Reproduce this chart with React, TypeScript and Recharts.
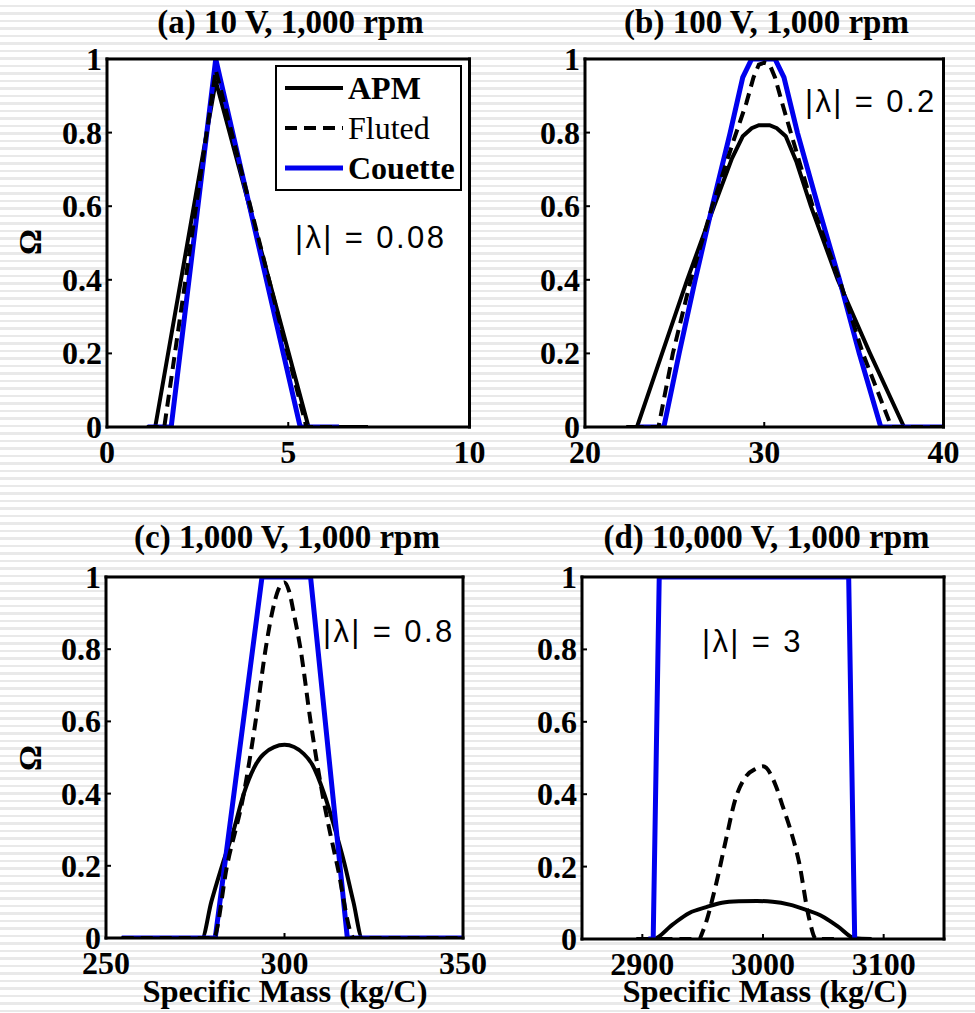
import React from "react"
import { CartesianGrid, Legend, Line, LineChart, XAxis, YAxis } from "recharts"

// ---- data ----
const yTicks = [0, 0.2, 0.4, 0.6, 0.8, 1]

// (a) 10 V
const aTicks = [0, 5, 10]
const apmAX = [1.1, 1.33, 3.0, 5.56, 7.2]
const apmAY = [0, 0, 0.94, 0, 0]
const flutedAX = [1.1, 1.58, 3.0, 5.5, 7.2]
const flutedAY = [0, 0, 0.97, 0, 0]
const couetteAX = [1.12, 1.77, 3.0, 5.33, 6.4]
const couetteAY = [0, 0, 1, 0, 0]

// (b) 100 V
const bTicks = [20, 30, 40]
const apmBX = [22.3, 22.9, 25.7, 27.2, 28.2, 28.8, 29.3, 29.7, 30.3, 30.7, 31.2, 31.8, 32.6, 34.1, 35.9, 37.8, 40]
const apmBY = [0, 0, 0.4, 0.6, 0.73, 0.79, 0.812, 0.82, 0.82, 0.812, 0.79, 0.72, 0.6, 0.4, 0.2, 0, 0]
const flutedBX = [22.6, 24.1, 24.9, 25.9, 27.1, 28.3, 29.0, 29.4, 29.7, 30, 30.3, 30.6, 31.0, 31.6, 32.7, 34.2, 35.5, 37.1, 40]
const flutedBY = [0, 0, 0.2, 0.4, 0.6, 0.78, 0.88, 0.95, 0.985, 0.99, 0.985, 0.95, 0.88, 0.78, 0.6, 0.4, 0.2, 0, 0]
const couetteBX = [23.0, 24.4, 25.25, 26.15, 27.1, 28.1, 28.8, 29.3, 30.6, 31.1, 31.85, 33.0, 34.2, 35.3, 36.5, 40]
const couetteBY = [0, 0, 0.2, 0.4, 0.6, 0.8, 0.95, 1, 1, 0.95, 0.8, 0.6, 0.4, 0.2, 0, 0]

// (c) 1,000 V
const cTicks = [250, 300, 350]
const apmCX = [254.4, 276.9, 279.5, 282.5, 285.8, 288.6, 291.4, 294.2, 300, 305.4, 307.8, 311.1, 313.9, 316.7, 319.3, 321.8, 350]
const apmCY = [0, 0, 0.1, 0.2, 0.3, 0.4, 0.47, 0.51, 0.535, 0.51, 0.48, 0.4, 0.31, 0.21, 0.1, 0, 0]
const flutedCX = [254.4, 280.1, 283.9, 288.6, 291.9, 294.7, 296.5, 298.5, 300, 301.3, 302.6, 304.5, 307.3, 310.6, 314.8, 319.5, 350]
const flutedCY = [0, 0, 0.2, 0.4, 0.6, 0.8, 0.9, 0.97, 0.985, 0.96, 0.9, 0.8, 0.6, 0.4, 0.2, 0, 0]
const couetteCX = [254.4, 280.6, 293.7, 307.3, 317.6, 350]
const couetteCY = [0, 0, 1, 1, 0, 0]

// (d) 10,000 V
const dTicks = [2900, 3000, 3100]
const apmDX = [2895, 2909, 2925, 2939, 2953, 2966, 2980, 2995, 3008, 3022, 3036, 3049, 3062, 3076, 3090]
const apmDY = [0, 0, 0.04, 0.072, 0.088, 0.1, 0.104, 0.105, 0.103, 0.095, 0.08, 0.063, 0.035, 0.002, 0]
const flutedDX = [2915, 2947, 2950, 2961, 2969, 2977, 2986, 2994, 3000, 3011, 3016, 3022, 3030, 3038, 3044, 3060]
const flutedDY = [0, 0, 0.02, 0.15, 0.27, 0.385, 0.45, 0.47, 0.477, 0.42, 0.37, 0.31, 0.21, 0.06, 0, 0]
const couetteDX = [2905, 2909, 2914, 3071, 3076]
const couetteDY = [0, 0, 1, 1, 0]

const legendOrder = ["APM", "Fluted", "Couette"]

type Pt = { x: number; y: number }
const pts = (xs: number[], ys: number[]): Pt[] => xs.map((x, i) => ({ x, y: ys[i] }))

const serif = "Liberation Serif"
const sans = "Liberation Sans"
const blue = "#0000ee"

// padding around the plot box inside each chart
const PAD = { l: 70, t: 30, r: 30, b: 50 }

const boxLine = { stroke: "#000", strokeWidth: 3, strokeLinecap: "square" as const }
const tickMark = { stroke: "#000", strokeWidth: 2 }

function XTick({ x, y, payload }: any) {
  return (
    <text x={x} y={y} dy={23} textAnchor="middle" fontFamily={serif} fontWeight={700} fontSize={32} fill="#000">
      {payload.value}
    </text>
  )
}

function YTick({ x, y, payload }: any) {
  return (
    <text x={x} y={y} dy={11} textAnchor="end" fontFamily={serif} fontWeight={700} fontSize={32} fill="#000">
      {payload.value}
    </text>
  )
}

function LegendBox({ payload }: any) {
  const items = [...(payload ?? [])].sort(
    (a: any, b: any) => legendOrder.indexOf(a.value) - legendOrder.indexOf(b.value)
  )
  return (
    <div
      style={{
        position: "relative",
        width: 187,
        height: 126,
        boxSizing: "border-box",
        background: "#fff",
        border: "2px solid #000",
      }}
    >
      {items.map((item: any, i: number) => {
        const dashed = item.payload?.strokeDasharray
        return (
          <div key={item.value} style={{ position: "absolute", left: 8, top: 2 + i * 40, height: 38, display: "flex", alignItems: "center" }}>
            <svg width={58} height={10} style={{ display: "block" }}>
              <line x1={0} y1={5} x2={58} y2={5} stroke={item.color} strokeWidth={item.value === "Couette" ? 5 : 4} strokeDasharray={dashed} />
            </svg>
            <span
              style={{
                marginLeft: 5,
                fontFamily: serif,
                fontSize: 32,
                lineHeight: "38px",
                fontWeight: item.value === "Fluted" ? 400 : 700,
                color: "#000",
              }}
            >
              {item.value}
            </span>
          </div>
        )
      })}
    </div>
  )
}

type Box = { l: number; t: number; r: number; b: number }

function Panel({
  box,
  xDomain,
  xTicks,
  apm,
  fluted,
  couette,
  curve,
  legend,
}: {
  box: Box
  xDomain: number[]
  xTicks: number[]
  apm: Pt[]
  fluted: Pt[]
  couette: Pt[]
  curve: "linear" | "monotone"
  legend?: boolean
}) {
  const width = box.r - box.l + PAD.l + PAD.r
  const height = box.b - box.t + PAD.t + PAD.b
  return (
    <div style={{ position: "absolute", left: box.l - PAD.l, top: box.t - PAD.t, width, height }}>
      <LineChart
        width={width}
        height={height}
        margin={{ top: PAD.t - 1, right: PAD.r - 1, left: PAD.l - 60, bottom: PAD.b - 40 }}
      >
        <CartesianGrid xAxisId="bottom" yAxisId="left" fill="#fff" horizontal={false} vertical={false} />
        <Line xAxisId="bottom" yAxisId="left" data={apm} dataKey="y" name="APM" type={curve} stroke="#000" strokeWidth={4} dot={false} activeDot={false} isAnimationActive={false} />
        <Line xAxisId="bottom" yAxisId="left" data={couette} dataKey="y" name="Couette" type="linear" stroke={blue} strokeWidth={5} dot={false} activeDot={false} isAnimationActive={false} />
        <Line xAxisId="bottom" yAxisId="left" data={fluted} dataKey="y" name="Fluted" type={curve} stroke="#000" strokeWidth={4} strokeDasharray="12 7" dot={false} activeDot={false} isAnimationActive={false} />
        <XAxis
          xAxisId="bottom"
          dataKey="x"
          type="number"
          domain={xDomain}
          ticks={xTicks}
          interval={0}
          allowDataOverflow
          height={40}
          tickSize={-5}
          tickMargin={18}
          axisLine={boxLine}
          tickLine={tickMark}
          tick={<XTick />}
        />
        <XAxis xAxisId="top" orientation="top" type="number" domain={xDomain} ticks={xTicks} interval={0} allowDataOverflow height={1} tickSize={-5} axisLine={boxLine} tickLine={tickMark} tick={false} />
        <YAxis
          yAxisId="left"
          type="number"
          domain={[0, 1]}
          ticks={yTicks}
          interval={0}
          allowDataOverflow
          width={60}
          tickSize={-5}
          tickMargin={10}
          axisLine={boxLine}
          tickLine={tickMark}
          tick={<YTick />}
        />
        <YAxis yAxisId="right" orientation="right" type="number" domain={[0, 1]} ticks={yTicks} interval={0} allowDataOverflow width={1} tickSize={-5} axisLine={boxLine} tickLine={tickMark} tick={false} />
        {legend && (
          <Legend
            layout="horizontal"
            verticalAlign="middle"
            align="center"
            content={<LegendBox />}
            wrapperStyle={{ position: "absolute", left: 275 - (box.l - PAD.l), top: 65 - (box.t - PAD.t), width: 187, height: 126 }}
          />
        )}
      </LineChart>
    </div>
  )
}

export default function App() {
  return (
    <div
      style={{
        position: "absolute",
        left: 0,
        top: 0,
        width: 975,
        height: 1013,
        overflow: "hidden",
        background: "repeating-linear-gradient(to bottom, #ffffff 0px, #ffffff 5px, #e9e9e9 5px, #e9e9e9 7.5px)",
      }}
    >
      <Panel box={{ l: 106.5, t: 59, r: 469, b: 427 }} xDomain={[0, 10]} xTicks={aTicks} apm={pts(apmAX, apmAY)} fluted={pts(flutedAX, flutedAY)} couette={pts(couetteAX, couetteAY)} curve="linear" legend />
      <Panel box={{ l: 584.5, t: 59, r: 943, b: 427 }} xDomain={[20, 40]} xTicks={bTicks} apm={pts(apmBX, apmBY)} fluted={pts(flutedBX, flutedBY)} couette={pts(couetteBX, couetteBY)} curve="linear" />
      <Panel box={{ l: 106, t: 576.5, r: 463, b: 937.5 }} xDomain={[250, 350]} xTicks={cTicks} apm={pts(apmCX, apmCY)} fluted={pts(flutedCX, flutedCY)} couette={pts(couetteCX, couetteCY)} curve="monotone" />
      <Panel box={{ l: 582, t: 577, r: 944, b: 939 }} xDomain={[2850, 3150]} xTicks={dTicks} apm={pts(apmDX, apmDY)} fluted={pts(flutedDX, flutedDY)} couette={pts(couetteDX, couetteDY)} curve="monotone" />

      <svg width={975} height={1013} style={{ position: "absolute", left: 0, top: 0, pointerEvents: "none" }}>
        <g fontFamily={serif} fontWeight={700} fontSize={33} textAnchor="middle" fill="#000">
          <text x={290.5} y={33}>(a) 10 V, 1,000 rpm</text>
          <text x={766.5} y={33}>(b) 100 V, 1,000 rpm</text>
          <text x={287} y={548}>(c) 1,000 V, 1,000 rpm</text>
          <text x={766.5} y={548}>(d) 10,000 V, 1,000 rpm</text>
        </g>
        <g fontFamily={serif} fontWeight={700} fontSize={32.5} textAnchor="middle" fill="#000">
          <text x={285} y={1002}>Specific Mass (kg/C)</text>
          <text x={765} y={1002}>Specific Mass (kg/C)</text>
          <text x={30} y={242} transform="rotate(-90 30 242)" dominantBaseline="central">Ω</text>
          <text x={30} y={758} transform="rotate(-90 30 758)" dominantBaseline="central">Ω</text>
        </g>
        <g fontFamily={sans} fontSize={31} fill="#000" letterSpacing={2.4}>
          <text x={295} y={248}>|λ| = 0.08</text>
          <text x={805} y={112}>|λ| = 0.2</text>
          <text x={323} y={642}>|λ| = 0.8</text>
          <text x={702} y={652}>|λ| = 3</text>
        </g>
      </svg>
    </div>
  )
}
